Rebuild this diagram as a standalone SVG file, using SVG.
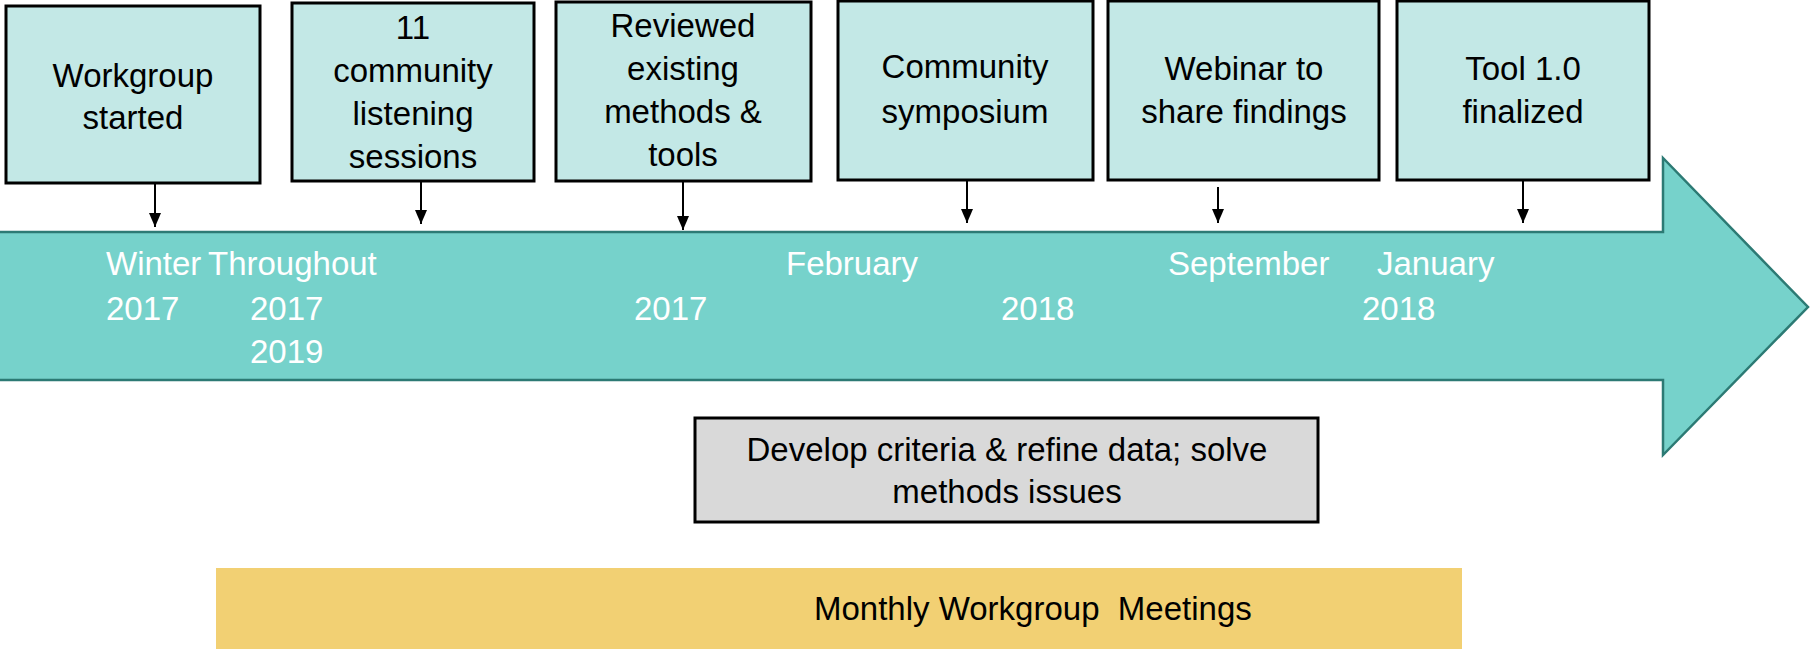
<svg xmlns="http://www.w3.org/2000/svg" width="1810" height="649" viewBox="0 0 1810 649">
<style>
.box{fill:#C3E8E6;stroke:#000;stroke-width:3}
.t{font-family:"Liberation Sans",Arial,sans-serif;font-size:33px;fill:#000;text-anchor:middle}
.d{font-family:"Liberation Sans",Arial,sans-serif;font-size:33px;fill:#fff}
.con{stroke:#000;stroke-width:2;fill:none;marker-end:url(#ah)}
</style>
<defs>
<marker id="ah" markerWidth="14" markerHeight="12" refX="14" refY="6" orient="auto" markerUnits="userSpaceOnUse" viewBox="0 0 14 12">
<path d="M0,0 L14,6 L0,12 Z" fill="#000"/>
</marker>
</defs>
<rect width="1810" height="649" fill="#fff"/>
<g id="timeline">
<polygon points="-4,232 1663,232 1663,158 1808,307 1663,455 1663,380 -4,380" fill="#76D2CB" stroke="#2C7A74" stroke-width="2.5"/>
<text class="d" x="106" y="275">Winter</text>
<text class="d" x="208" y="275">Throughout</text>
<text class="d" x="106" y="320">2017</text>
<text class="d" x="250" y="320">2017</text>
<text class="d" x="250" y="363">2019</text>
<text class="d" x="634" y="320">2017</text>
<text class="d" x="786" y="275">February</text>
<text class="d" x="1001" y="320">2018</text>
<text class="d" x="1168" y="275">September</text>
<text class="d" x="1377" y="275">January</text>
<text class="d" x="1362" y="320">2018</text>
</g>
<g id="n1">
<rect class="box" x="6" y="6" width="254" height="177"/>
<text class="t" x="133" y="87">Workgroup</text>
<text class="t" x="133" y="129">started</text>
</g>
<g id="n2">
<rect class="box" x="292" y="3" width="242" height="178"/>
<text class="t" x="413" y="39">11</text>
<text class="t" x="413" y="82">community</text>
<text class="t" x="413" y="125">listening</text>
<text class="t" x="413" y="168">sessions</text>
</g>
<g id="n3">
<rect class="box" x="556" y="2" width="255" height="179"/>
<text class="t" x="683" y="37">Reviewed</text>
<text class="t" x="683" y="80">existing</text>
<text class="t" x="683" y="123">methods &amp;</text>
<text class="t" x="683" y="166">tools</text>
</g>
<g id="n4">
<rect class="box" x="838" y="1" width="255" height="179"/>
<text class="t" x="965" y="78">Community</text>
<text class="t" x="965" y="123">symposium</text>
</g>
<g id="n5">
<rect class="box" x="1108" y="1" width="271" height="179"/>
<text class="t" x="1244" y="80">Webinar to</text>
<text class="t" x="1244" y="123">share findings</text>
</g>
<g id="n6">
<rect class="box" x="1397" y="1" width="252" height="179"/>
<text class="t" x="1523" y="80">Tool 1.0</text>
<text class="t" x="1523" y="123">finalized</text>
</g>
<g id="n7">
<rect x="695" y="418" width="623" height="104" fill="#D9D9D9" stroke="#000" stroke-width="3"/>
<text class="t" x="1007" y="461">Develop criteria &amp; refine data; solve</text>
<text class="t" x="1007" y="503">methods issues</text>
</g>
<g id="n8">
<rect x="216" y="568" width="1246" height="85" fill="#F2D073"/>
<text class="t" x="814" y="620" style="text-anchor:start;white-space:pre" xml:space="preserve">Monthly Workgroup  Meetings</text>
</g>
<g id="connectors">
<line class="con" x1="155" y1="183" x2="155" y2="227"/>
<line class="con" x1="421" y1="181" x2="421" y2="224"/>
<line class="con" x1="683" y1="181" x2="683" y2="230"/>
<line class="con" x1="967" y1="180" x2="967" y2="223"/>
<line class="con" x1="1218" y1="187" x2="1218" y2="223"/>
<line class="con" x1="1523" y1="180" x2="1523" y2="223"/>
</g>
</svg>
